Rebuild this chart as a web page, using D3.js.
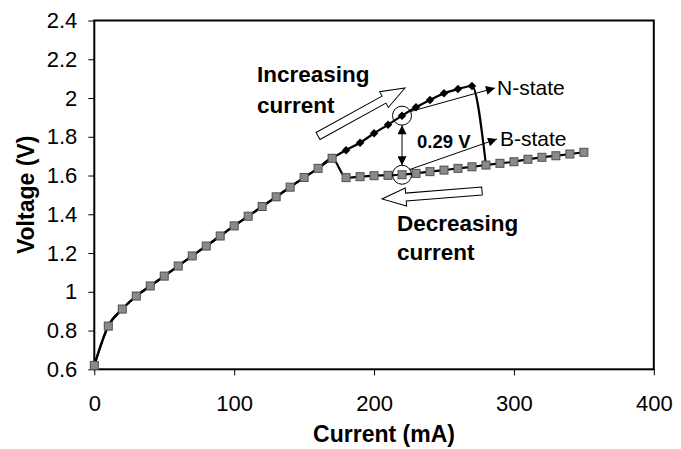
<!doctype html>
<html>
<meta charset="utf-8">
<style>
body { margin: 0; padding: 0; background: #fff; }
svg { font-family: 'Liberation Sans', Arial, sans-serif; }
.tick text { font-size: 22px; fill: #000; }
.title { font-size: 23px; font-weight: bold; }
.note { font-size: 22.5px; font-weight: bold; }
.small { font-size: 18.5px; font-weight: bold; }
.state { font-size: 21px; }
</style>
<body>
<svg width="681" height="449"></svg>
<script src="https://cdn.jsdelivr.net/npm/d3@7"></script>
<script>

// increasing sweep (N-state branch), mA / V
var incCurrent = [0, 10, 20, 30, 40, 50, 60, 70, 80, 90, 100, 110, 120, 130, 140,
                  150, 160, 170, 180, 190, 200, 210, 220, 230, 240, 250, 260, 270, 280];
var incVoltage = [0.62, 0.823, 0.911, 0.978, 1.03, 1.081, 1.133, 1.185, 1.236, 1.288,
                  1.34, 1.39, 1.44, 1.49, 1.54, 1.59, 1.637, 1.689, 1.731, 1.769,
                  1.818, 1.862, 1.909, 1.952, 1.99, 2.024, 2.046, 2.062, 1.654];

// decreasing sweep (B-state branch)
var decCurrent = [350, 340, 330, 320, 310, 300, 290, 280, 270, 260, 250, 240, 230, 220,
                  210, 200, 190, 180, 170, 160, 150, 140, 130, 120, 110, 100, 90, 80,
                  70, 60, 50, 40, 30, 20, 10, 0];
var decVoltage = [1.72, 1.711, 1.702, 1.694, 1.684, 1.671, 1.663, 1.654, 1.645, 1.637,
                  1.628, 1.62, 1.611, 1.604, 1.601, 1.599, 1.594, 1.589, 1.689, 1.637,
                  1.59, 1.54, 1.49, 1.44, 1.39, 1.34, 1.288, 1.236, 1.185, 1.133,
                  1.081, 1.03, 0.978, 0.911, 0.823, 0.62];

var xTicks = [0, 100, 200, 300, 400];
var yTicks = [0.6, 0.8, 1, 1.2, 1.4, 1.6, 1.8, 2, 2.2, 2.4];

var svg = d3.select("svg");
var plotL = 94.3, plotR = 653.8, plotT = 20.5, plotB = 369.3;

var x = d3.scaleLinear().domain([0, 400]).range([plotL, plotR]);
var y = d3.scaleLinear().domain([0.6, 2.4]).range([plotB, plotT]);

// axes
svg.append("g")
    .attr("transform", "translate(0," + plotB + ")")
    .call(d3.axisBottom(x).tickValues(xTicks).tickSize(6).tickPadding(20).tickFormat(d3.format("d")))
    .call(function(g) { g.select(".domain").remove(); });

svg.append("g")
    .attr("transform", "translate(" + plotL + ",0)")
    .call(d3.axisLeft(y).tickValues(yTicks).tickSize(6).tickPadding(11).tickFormat(function(d) { return String(+d.toFixed(1)); }))
    .call(function(g) { g.select(".domain").remove(); });

svg.selectAll(".tick line").attr("stroke", "#000").attr("stroke-width", 1);

// plot frame
svg.append("rect")
    .attr("x", plotL).attr("y", plotT)
    .attr("width", plotR - plotL).attr("height", plotB - plotT)
    .attr("fill", "none").attr("stroke", "#000").attr("stroke-width", 2);

// axis titles
svg.append("text").attr("class", "title")
    .attr("x", 384).attr("y", 442)
    .attr("text-anchor", "middle")
    .text("Current (mA)");

svg.append("text").attr("class", "title")
    .attr("transform", "translate(34," + (plotT + plotB) / 2 + ") rotate(-90)")
    .attr("text-anchor", "middle")
    .text("Voltage (V)");

var inc = incCurrent.map(function(c, i) { return [c, incVoltage[i]]; });
var dec = decCurrent.map(function(c, i) { return [c, decVoltage[i]]; });

var line = d3.line()
    .x(function(d) { return x(d[0]); })
    .y(function(d) { return y(d[1]); })
    .curve(d3.curveMonotoneX);

svg.append("path").datum(inc)
    .attr("d", line).attr("fill", "none")
    .attr("stroke", "#000").attr("stroke-width", 2.2);

svg.append("path").datum(dec)
    .attr("d", line).attr("fill", "none")
    .attr("stroke", "#000").attr("stroke-width", 2.2);

// markers: black diamonds for increasing, gray squares for decreasing
svg.append("g").selectAll("path").data(inc).join("path")
    .attr("transform", function(d) { return "translate(" + x(d[0]) + "," + y(d[1]) + ") rotate(45)"; })
    .attr("d", d3.symbol(d3.symbolSquare, 36))
    .attr("fill", "#000");

svg.append("g").selectAll("rect").data(dec).join("rect")
    .attr("x", function(d) { return x(d[0]) - 4; })
    .attr("y", function(d) { return y(d[1]) - 4; })
    .attr("width", 8).attr("height", 8)
    .attr("fill", "#8a8a8a").attr("stroke", "#505050").attr("stroke-width", 1);

// arrowheads
var defs = svg.append("defs");
defs.append("marker").attr("id", "head")
    .attr("viewBox", "0 0 10 10").attr("refX", 10).attr("refY", 5)
    .attr("markerWidth", 11).attr("markerHeight", 9)
    .attr("markerUnits", "userSpaceOnUse")
    .attr("orient", "auto-start-reverse")
  .append("path").attr("d", "M0,0L10,5L0,10Z").attr("fill", "#000");

// circles round the two states at 220 mA
var cx = x(220), nY = y(1.909), bY = y(1.604), r = 9.5;
svg.append("circle").attr("cx", cx).attr("cy", nY).attr("r", r)
    .attr("fill", "none").attr("stroke", "#000").attr("stroke-width", 1);
svg.append("circle").attr("cx", cx).attr("cy", bY).attr("r", r)
    .attr("fill", "none").attr("stroke", "#000").attr("stroke-width", 1);

// 0.29 V double arrow
svg.append("line")
    .attr("x1", cx).attr("y1", nY + r).attr("x2", cx).attr("y2", bY - r)
    .attr("stroke", "#000").attr("stroke-width", 1)
    .attr("marker-start", "url(#head)").attr("marker-end", "url(#head)");

svg.append("text").attr("class", "small")
    .attr("x", 417).attr("y", 148).text("0.29 V");

// pointers to state labels
svg.append("line")
    .attr("x1", cx + 8).attr("y1", nY - 4).attr("x2", 495).attr("y2", 88)
    .attr("stroke", "#000").attr("stroke-width", 1)
    .attr("marker-end", "url(#head)");
svg.append("text").attr("class", "state").attr("x", 497).attr("y", 95).text("N-state");

svg.append("line")
    .attr("x1", cx + 7).attr("y1", bY - 5).attr("x2", 497).attr("y2", 139)
    .attr("stroke", "#000").attr("stroke-width", 1)
    .attr("marker-end", "url(#head)");
svg.append("text").attr("class", "state").attr("x", 500).attr("y", 146).text("B-state");

// hollow block arrows
function blockArrow(x1, y1, x2, y2) {
  var len = Math.hypot(x2 - x1, y2 - y1),
      ang = Math.atan2(y2 - y1, x2 - x1) * 180 / Math.PI,
      hw = 4, hh = 9, hl = 24;
  svg.append("path")
      .attr("transform", "translate(" + x1 + "," + y1 + ") rotate(" + ang + ")")
      .attr("d", "M0," + (-hw) + "L" + (len - hl) + "," + (-hw) + "L" + (len - hl) + "," + (-hh) +
                 "L" + len + ",0L" + (len - hl) + "," + hh + "L" + (len - hl) + "," + hw +
                 "L0," + hw + "Z")
      .attr("fill", "#fff").attr("stroke", "#000").attr("stroke-width", 1);
}
blockArrow(318, 136, 405, 88);
blockArrow(482, 191, 382, 199);

svg.append("text").attr("class", "note").attr("x", 257).attr("y", 82).text("Increasing");
svg.append("text").attr("class", "note").attr("x", 257).attr("y", 113).text("current");
svg.append("text").attr("class", "note").attr("x", 397).attr("y", 231).text("Decreasing");
svg.append("text").attr("class", "note").attr("x", 397).attr("y", 260).text("current");

</script>
</body>
</html>
